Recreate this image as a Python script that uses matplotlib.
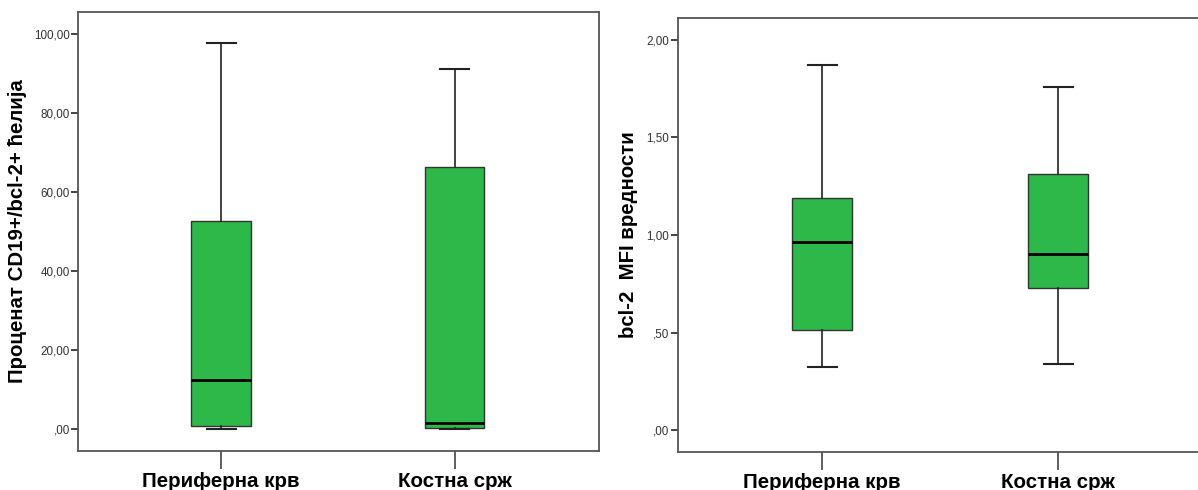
import matplotlib.pyplot as plt

plt.rcParams['font.family'] = ['Liberation Sans', 'DejaVu Sans']

groups = ['Периферна крв', 'Костна срж']

# left panel: percent of CD19+/bcl-2+ cells
pct_low = [0.0, 0.0]
pct_q1 = [0.7, 0.25]
pct_med = [12.3, 1.4]
pct_q3 = [52.7, 66.3]
pct_high = [97.7, 91.1]
pct_ticks = [0, 20, 40, 60, 80, 100]
pct_ticklabels = [',00', '20,00', '40,00', '60,00', '80,00', '100,00']

# right panel: bcl-2 MFI
mfi_low = [0.324, 0.339]
mfi_q1 = [0.512, 0.730]
mfi_med = [0.964, 0.901]
mfi_q3 = [1.189, 1.311]
mfi_high = [1.870, 1.759]
mfi_ticks = [0, 0.5, 1.0, 1.5, 2.0]
mfi_ticklabels = [',00', ',50', '1,00', '1,50', '2,00']

green = '#2eb84a'
spine = '#555555'


def stats(lo, q1, med, q3, hi):
    return [dict(whislo=a, q1=b, med=c, q3=d, whishi=e, fliers=[])
            for a, b, c, d, e in zip(lo, q1, med, q3, hi)]


def draw(ax, st, ticks, ticklabels, ylim, ylabel, label_x):
    ax.bxp(st, positions=[0, 1], widths=0.253, patch_artist=True,
           showfliers=False,
           boxprops=dict(facecolor=green, edgecolor='#333333', linewidth=1.0),
           medianprops=dict(color='black', linewidth=2.0),
           whiskerprops=dict(color='#222222', linewidth=1.2),
           capprops=dict(color='#222222', linewidth=1.5),
           capwidths=0.124)
    ax.set(xlim=[-0.612, 1.617], ylim=ylim)
    ax.set_yticks(ticks)
    ax.set_yticklabels(ticklabels, color='#333333')
    ax.set_xticks([0, 1])
    ax.set_xticklabels(groups, fontsize=14.8, fontweight='bold')
    ax.set_ylabel(ylabel, fontsize=14.7, fontweight='bold')
    ax.yaxis.set_label_coords(label_x, 0.5)
    ax.tick_params(axis='y', length=5, width=1.2, color='#222222',
                   labelsize=8.4, pad=1)
    ax.tick_params(axis='x', length=13, width=1.2, color='#444444', pad=2)
    for sp in ax.spines.values():
        sp.set_color(spine)
        sp.set_linewidth(1.3)


fig = plt.figure(figsize=(11.98, 4.9), dpi=100)
ax1 = fig.add_axes([0.0651, 0.0796, 0.4349, 0.8959])
ax2 = fig.add_axes([0.5657, 0.0776, 0.4391, 0.8857])

draw(ax1, stats(pct_low, pct_q1, pct_med, pct_q3, pct_high),
     pct_ticks, pct_ticklabels, [-5.57, 105.57],
     'Проценат CD19+/bcl-2+ ћелија', -0.098)
draw(ax2, stats(mfi_low, mfi_q1, mfi_med, mfi_q3, mfi_high),
     mfi_ticks, mfi_ticklabels, [-0.111, 2.111],
     'bcl-2  MFI вредности', -0.075)

fig.savefig('out.png', dpi=100)
